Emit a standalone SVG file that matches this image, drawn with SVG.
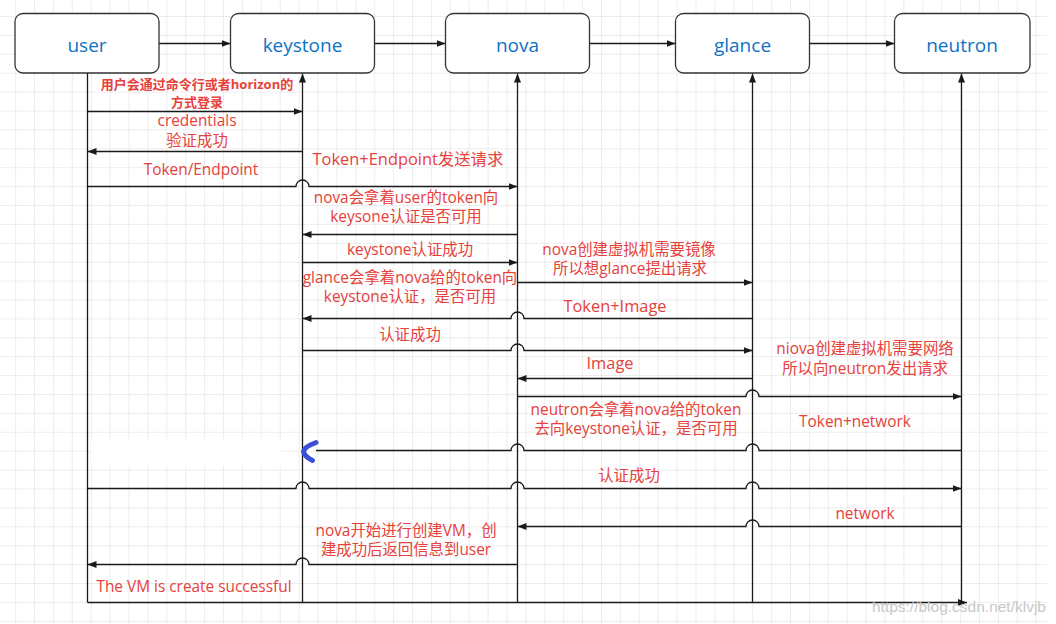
<svg xmlns="http://www.w3.org/2000/svg" width="1056" height="624" viewBox="0 0 1056 624">
<defs>
<pattern id="grid" patternUnits="userSpaceOnUse" x="15.1" y="16" width="18.9" height="18.9">
<path d="M0,0 H18.9 M0,0 V18.9" fill="none" stroke="#dcdcdc" stroke-width="1"/>
</pattern>
<marker id="ah" markerUnits="userSpaceOnUse" markerWidth="10" markerHeight="8" refX="9" refY="3.5" orient="auto">
<path d="M0,0 L9,3.5 L0,7 Z" fill="#1a1a1a"/>
</marker>
<style>
.box{fill:#fff;stroke:#333;stroke-width:1.3}
.bt{font-family:"Open Sans","Noto Sans CJK SC",sans-serif;font-size:19px;fill:#0e72c4;text-anchor:middle}
.ln{fill:none;stroke:#1a1a1a;stroke-width:1.3}
.ar{marker-end:url(#ah)}
.lb{font-family:"Open Sans","Noto Sans CJK SC",sans-serif;font-size:15.4px;fill:#e6413b;text-anchor:middle}
.bd{font-weight:bold;font-size:13px}
.big{font-size:16.4px}
</style>
</defs>
<rect x="0" y="0" width="1056" height="624" fill="#fff"/>
<rect x="0" y="0" width="1047" height="624" fill="url(#grid)"/>
<rect x="91" y="440" width="190" height="26" fill="#fff"/>

<g id="connectors">
<path class="ln ar" d="M159,43.5 H230.5"/>
<path class="ln ar" d="M374.5,43.5 H445.5"/>
<path class="ln ar" d="M589.5,43.5 H675.5"/>
<path class="ln ar" d="M809.5,43.5 H894.5"/>
<path class="ln" d="M87.5,73 V602.5"/>
<path class="ln ar" d="M302.5,602.5 V73.5"/>
<path class="ln ar" d="M517.5,602.5 V73.5"/>
<path class="ln ar" d="M752.5,602.5 V73.5"/>
<path class="ln ar" d="M961.5,602.5 V73.5"/>
<path class="ln ar" d="M87.5,602.5 H967"/>
<path class="ln ar" d="M87.5,111.5 H302.5"/>
<path class="ln ar" d="M302.5,151.5 H87.5"/>
<path class="ln ar" d="M87.5,186.5 H296 A6.5,6.5 0 0 1 309,186.5 H517.5"/>
<path class="ln ar" d="M517.5,234.5 H302.5"/>
<path class="ln ar" d="M302.5,262.5 H517.5"/>
<path class="ln ar" d="M517.5,282.5 H752.5"/>
<path class="ln ar" d="M752.5,318.5 H524 A6.5,6.5 0 0 0 511,318.5 H302.5"/>
<path class="ln ar" d="M302.5,350.5 H511 A6.5,6.5 0 0 1 524,350.5 H752.5"/>
<path class="ln ar" d="M752.5,378.5 H517.5"/>
<path class="ln ar" d="M517.5,396.5 H746 A6.5,6.5 0 0 1 759,396.5 H961.5"/>
<path class="ln" d="M961.5,450.5 H759 A6.5,6.5 0 0 0 746,450.5 H524 A6.5,6.5 0 0 0 511,450.5 H316"/>
<path class="ln ar" d="M87.5,488.5 H296 A6.5,6.5 0 0 1 309,488.5 H511 A6.5,6.5 0 0 1 524,488.5 H746 A6.5,6.5 0 0 1 759,488.5 H961.5"/>
<path class="ln ar" d="M961.5,526.5 H759 A6.5,6.5 0 0 0 746,526.5 H517.5"/>
<path class="ln ar" d="M517.5,564.5 H309 A6.5,6.5 0 0 0 296,564.5 H87.5"/>
<path d="M316,442.5 Q304,447 303.5,451.5 Q304.5,456.5 312.5,460.5" fill="none" stroke="#3b4fd8" stroke-width="5" stroke-linecap="round" stroke-linejoin="round"/>
</g>

<g id="user"><rect class="box" x="15" y="13.5" width="144" height="59.5" rx="8"/><text class="bt" x="87" y="52">user</text></g>
<g id="keystone"><rect class="box" x="230.5" y="13.5" width="144" height="59.5" rx="8"/><text class="bt" x="302.5" y="52">keystone</text></g>
<g id="nova"><rect class="box" x="445.5" y="13.5" width="144" height="59.5" rx="8"/><text class="bt" x="517.5" y="52">nova</text></g>
<g id="glance"><rect class="box" x="675.5" y="13.5" width="134" height="59.5" rx="8"/><text class="bt" x="742.5" y="52">glance</text></g>
<g id="neutron"><rect class="box" x="894.5" y="13.5" width="135.5" height="59.5" rx="8"/><text class="bt" x="962" y="52">neutron</text></g>

<g id="labels">
<text class="lb bd" x="197" y="88.5">用户会通过命令行或者horizon的</text>
<text class="lb bd" x="197" y="106.5">方式登录</text>
<text class="lb" x="197" y="126">credentials</text>
<text class="lb" x="197" y="146">验证成功</text>
<text class="lb" x="201" y="175">Token/Endpoint</text>
<text class="lb big" x="408" y="165">Token+Endpoint发送请求</text>
<text class="lb" x="406" y="203">nova会拿着user的token向</text>
<text class="lb" x="406" y="222">keysone认证是否可用</text>
<text class="lb" x="410" y="255">keystone认证成功</text>
<text class="lb" x="629" y="255">nova创建虚拟机需要镜像</text>
<text class="lb" x="630" y="274">所以想glance提出请求</text>
<text class="lb" x="410" y="283">glance会拿着nova给的token向</text>
<text class="lb" x="410" y="302">keystone认证，是否可用</text>
<text class="lb big" x="615" y="312">Token+Image</text>
<text class="lb" x="410" y="340">认证成功</text>
<text class="lb big" x="610" y="369">Image</text>
<text class="lb" x="865" y="354">niova创建虚拟机需要网络</text>
<text class="lb" x="865" y="374">所以向neutron发出请求</text>
<text class="lb" x="636" y="415">neutron会拿着nova给的token</text>
<text class="lb" x="636" y="434">去向keystone认证，是否可用</text>
<text class="lb" x="855" y="427">Token+network</text>
<text class="lb" x="629" y="481">认证成功</text>
<text class="lb" x="865" y="519">network</text>
<text class="lb" x="406" y="536">nova开始进行创建VM，创</text>
<text class="lb" x="406" y="555">建成功后返回信息到user</text>
<text class="lb" x="194" y="592">The VM is create successful</text>
<text x="1046" y="612" font-family="Liberation Sans, Arial, sans-serif" font-size="15.5" fill="#c8c8c8" text-anchor="end">https://blog.csdn.net/klvjb</text>
</g>
</svg>
